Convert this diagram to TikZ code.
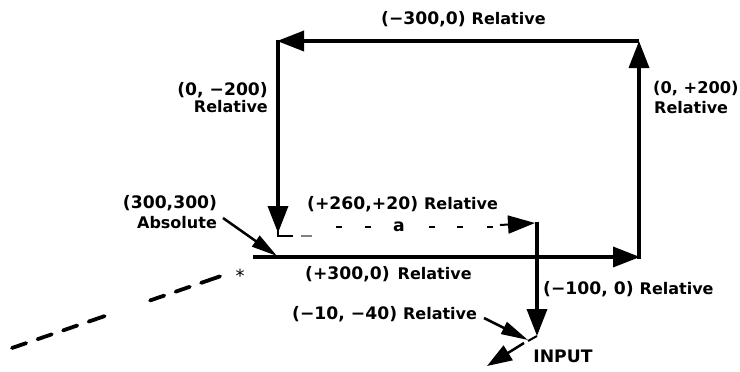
\documentclass[tikz,border=0pt]{standalone}
\usepackage{fontspec}
\setmainfont{DejaVu Sans}
\usetikzlibrary{arrows.meta}
\newcommand{\numf}{\fontsize{17.2}{20}\selectfont\bfseries}
\newcommand{\relf}{\fontsize{16}{19}\selectfont\bfseries}
\tikzset{
  mainline/.style={line width=3.5pt},
  bigarrow/.style={mainline,-{Triangle[length=27pt,width=20pt]}},
  lbl/.style={inner sep=0pt,font=\numf},
  dashmark/.style={line width=2.5pt},
}
\begin{document}
\begin{tikzpicture}[x=1pt,y=-1pt]
\useasboundingbox (0,0) rectangle (740,372);
% corners
\coordinate (bl) at (253,257);
\coordinate (br) at (640,257);
\coordinate (brv) at (639,258.5);
\coordinate (tr) at (639,41);
\coordinate (trh) at (639,41);
\coordinate (tl) at (277,41);
\coordinate (tlv) at (278,39.5);
\coordinate (lt) at (278,233);
\coordinate (hk0) at (278,230);
\coordinate (hk1) at (278,236);
\coordinate (hk2) at (293,236);
\coordinate (us0) at (301,236);
\coordinate (us1) at (312,236);
\coordinate (da0) at (500,225);
\coordinate (da1) at (535,223);
\coordinate (vt) at (537,221.5);
\coordinate (vb) at (537,336);
\coordinate (jn) at (528,341);
\coordinate (in0) at (524,343);
\coordinate (in1) at (487,366);
\coordinate (ds0) at (12,348);
\coordinate (ds1) at (224,275);
\coordinate (abs0) at (223,218);
\coordinate (abs1) at (277,256);
\coordinate (r0) at (484,318);
\coordinate (r1) at (528,340);
% main figure
\draw[bigarrow] (bl) -- (br);
\draw[bigarrow] (brv) -- (tr);
\draw[bigarrow] (trh) -- (tl);
\draw[bigarrow] (tlv) -- (lt);
\draw[line width=2.5pt] (hk0) -- (hk1) -- (hk2);
\draw[line width=1.5pt,gray] (us0) -- (us1);
% dashed marks of the relative move
\foreach \xx [count=\i] in {339,368,432,460,490}{
  \coordinate (dm\i a) at (\xx-3,227);
  \coordinate (dm\i b) at (\xx+3,227);
  \draw[dashmark] (dm\i a) -- (dm\i b);
}
\node[lbl] (a) at (399,227) {a};
\draw[line width=2pt,-{Triangle[length=27pt,width=18pt]}] (da0) -- (da1);
\draw[bigarrow] (vt) -- (vb);
\draw[line width=2pt] (vb) -- (jn);
\draw[line width=2.5pt,-{Triangle[length=25pt,width=17pt]}] (in0) -- (in1);
% dashed line lower left
\draw[line width=3.8pt,line cap=round,
  dash pattern=on 15pt off 12pt on 15pt off 12pt on 15pt off 12pt on 17pt off 48pt on 15pt off 12pt on 15pt off 12pt on 20pt off 100pt]
  (ds0) -- (ds1);
\node[inner sep=0pt,font=\fontsize{18}{18}\selectfont] (ast) at (240,276) {*};
% labels
\node[lbl,anchor=mid west] (ltop) at (381,22) {(−300,0) {\relf Relative}};
\node[lbl,anchor=mid east] (lleft) at (268,93) {(0, −200)};
\node[lbl,anchor=mid east,font=\relf] (lleftr) at (268,110) {Relative};
\node[lbl,anchor=mid west,font=\fontsize{16.2}{19}\selectfont\bfseries] (lright) at (653,91) {(0, +200)};
\node[lbl,anchor=mid west,font=\relf] (lrightr) at (654,111) {Relative};
\node[lbl,anchor=mid] (labs) at (170,206) {(300,300)};
\node[lbl,anchor=mid,font=\relf] (labsr) at (177,226) {Absolute};
\node[lbl,anchor=mid west] (l260) at (307,207) {(+260,+20) {\relf Relative}};
\node[lbl,anchor=mid west] (l300) at (305,277) {(+300,0)\hspace{8pt}{\relf Relative}};
\node[lbl,anchor=mid west] (l100) at (543,292) {(−100, 0) {\relf Relative}};
\node[lbl,anchor=mid west] (l10) at (292,317) {(−10, −40) {\relf Relative}};
\node[lbl,anchor=mid] (linput) at (563,360) {INPUT};
% label pointers
\draw[line width=2.5pt,-{Triangle[length=26pt,width=13pt]}] (abs0) -- (abs1);
\draw[line width=2.5pt,-{Triangle[length=27pt,width=13pt]}] (r0) -- (r1);
\end{tikzpicture}
\end{document}
